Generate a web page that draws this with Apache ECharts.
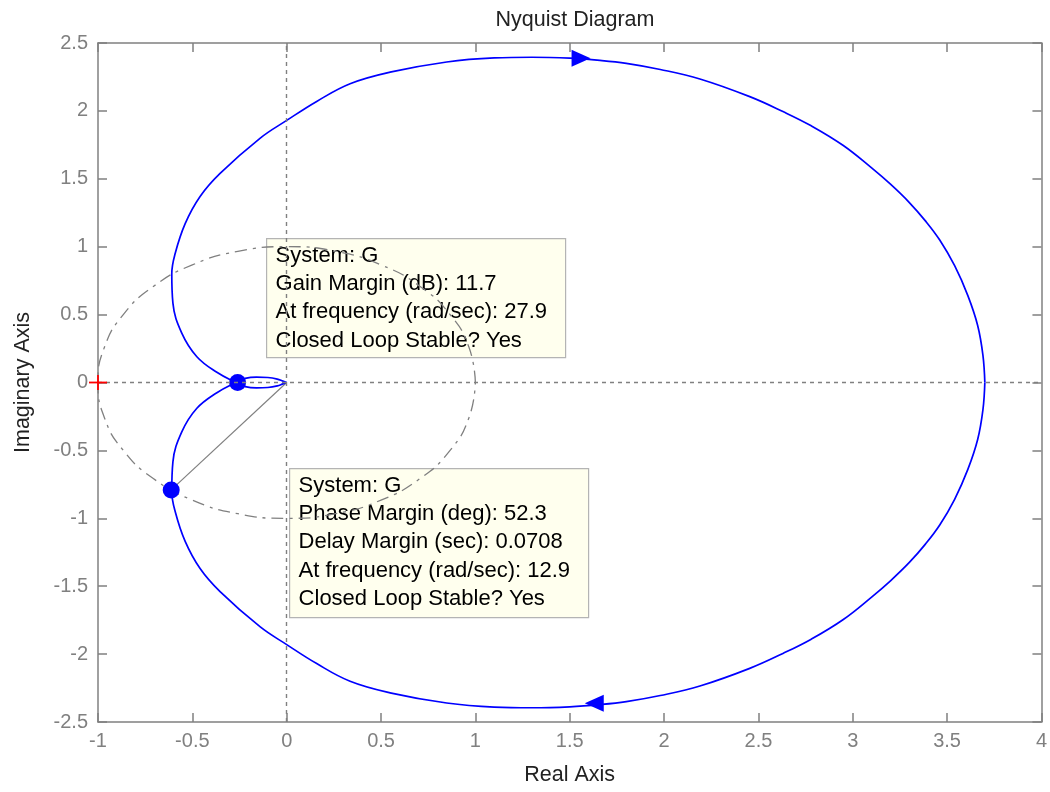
<!DOCTYPE html>
<html>
<head>
<meta charset="utf-8">
<script src="https://cdn.jsdelivr.net/npm/echarts@6/dist/echarts.min.js"></script>
<style>html,body{margin:0;padding:0;background:#fff;}#c{width:1050px;height:792px;}</style>
</head>
<body>
<div id="c"></div>
<script>
// ---- data ----
var xTicks = [-1, -0.5, 0, 0.5, 1, 1.5, 2, 2.5, 3, 3.5, 4];
var yTicks = [-2.5, -2, -1.5, -1, -0.5, 0, 0.5, 1, 1.5, 2, 2.5];

// Upper branch of the Nyquist curve (from 3.7 on the real axis, round the top, to the origin)
var nyquistUpper = [
  [3.70, 0], [3.690, 0.20], [3.662, 0.42], [3.610, 0.64], [3.540, 0.86],
  [3.461, 1.049], [3.385, 1.19], [3.300, 1.325], [3.200, 1.46], [3.100, 1.58],
  [2.950, 1.745], [2.780, 1.89], [2.630, 1.995], [2.454, 2.105], [2.190, 2.235],
  [1.980, 2.305], [1.800, 2.35], [1.660, 2.372], [1.500, 2.388], [1.300, 2.395],
  [1.100, 2.39], [0.848, 2.36], [0.548, 2.285], [0.336, 2.20], [0.159, 2.07],
  [0, 1.93], [-0.14, 1.80], [-0.353, 1.54], [-0.459, 1.37], [-0.538, 1.17],
  [-0.591, 0.95], [-0.609, 0.80], [-0.603, 0.585], [-0.556, 0.364], [-0.476, 0.19],
  [-0.37, 0.075], [-0.27, 0], [-0.22, -0.03], [-0.16, -0.04], [-0.1, -0.037],
  [-0.05, -0.025], [-0.02, -0.01], [0, 0]
];
// Lower branch: mirror image (a Nyquist plot is symmetric about the real axis)
var nyquistLower = nyquistUpper.map(function (p) { return [p[0], -p[1]]; });

// Unit circle (dash-dot reference), 15 degree steps
var unitCircle = [
  [1, 0], [0.966, 0.259], [0.866, 0.5], [0.707, 0.707], [0.5, 0.866], [0.259, 0.966],
  [0, 1], [-0.259, 0.966], [-0.5, 0.866], [-0.707, 0.707], [-0.866, 0.5], [-0.966, 0.259],
  [-1, 0], [-0.966, -0.259], [-0.866, -0.5], [-0.707, -0.707], [-0.5, -0.866], [-0.259, -0.966],
  [0, -1], [0.259, -0.966], [0.5, -0.866], [0.707, -0.707], [0.866, -0.5], [0.966, -0.259], [1, 0]
];

var gainMarginPoint = [-0.26, 0];
var phaseMarginPoint = [-0.612, -0.791];
var origin = [0, 0];
var criticalPoint = [-1, 0];
var arrowTop = [1.56, 2.387];
var arrowBottom = [1.63, -2.362];

var gmText = ['System: G', 'Gain Margin (dB): 11.7', 'At frequency (rad/sec): 27.9', 'Closed Loop Stable? Yes'];
var pmText = ['System: G', 'Phase Margin (deg): 52.3', 'Delay Margin (sec): 0.0708', 'At frequency (rad/sec): 12.9', 'Closed Loop Stable? Yes'];

// ---- chart ----
var FONT = '"Liberation Sans", Arial, Helvetica, sans-serif';
var AX = '#808080';
var chart = echarts.init(document.getElementById('c'), null, {renderer: 'canvas'});

function xAxisCfg(pos, showLabel) {
  return {
    type: 'value', position: pos, min: -1, max: 4, interval: 0.5,
    axisLine: {show: true, onZero: false, lineStyle: {color: AX, width: 1.5}},
    axisTick: {show: true, inside: true, length: 9, lineStyle: {color: AX, width: 1.5}},
    axisLabel: {show: showLabel, color: AX, fontFamily: FONT, fontSize: 20, margin: 9,
      formatter: function (v) { return String(v); }},
    splitLine: {show: false},
    name: showLabel ? 'Real Axis' : '', nameLocation: 'middle', nameGap: 42,
    nameTextStyle: {color: '#222', fontFamily: FONT, fontSize: 21.5}
  };
}
function yAxisCfg(pos, showLabel) {
  return {
    type: 'value', position: pos, min: -2.5, max: 2.5, interval: 0.5,
    axisLine: {show: true, onZero: false, lineStyle: {color: AX, width: 1.5}},
    axisTick: {show: true, inside: true, length: 9, lineStyle: {color: AX, width: 1.5}},
    axisLabel: {show: showLabel, color: AX, fontFamily: FONT, fontSize: 20, margin: 10,
      formatter: function (v) { return String(v); }},
    splitLine: {show: false},
    name: showLabel ? 'Imaginary Axis' : '', nameLocation: 'middle', nameGap: 64, nameRotate: 90,
    nameTextStyle: {color: '#222', fontFamily: FONT, fontSize: 21.5}
  };
}

var option = {
  animation: false,
  backgroundColor: '#ffffff',
  title: {
    text: 'Nyquist Diagram', left: 570, top: 4, textAlign: 'center',
    textStyle: {color: '#222', fontFamily: FONT, fontSize: 21.5, fontWeight: 'normal'}
  },
  grid: {left: 98, top: 43, right: 8, bottom: 70, containLabel: false},
  xAxis: [xAxisCfg('bottom', true), xAxisCfg('top', false)],
  yAxis: [yAxisCfg('left', true), yAxisCfg('right', false)],
  series: [
    {
      type: 'line', name: 'unit circle', data: unitCircle, smooth: true, symbol: 'none',
      lineStyle: {color: '#808080', width: 1.3, type: [12, 6, 3, 6]}, z: 1, silent: true,
      markLine: {
        silent: true, symbol: 'none', label: {show: false},
        lineStyle: {color: '#808080', width: 1.4, type: [4, 4]},
        data: [{xAxis: 0}, {yAxis: 0}]
      }
    },
    {
      type: 'line', name: 'pm line', data: [origin, phaseMarginPoint], symbol: 'none',
      lineStyle: {color: '#808080', width: 1.2}, z: 2, silent: true
    },
    {
      type: 'line', name: 'G+', data: nyquistUpper, smooth: 0.4, symbol: 'none',
      lineStyle: {color: '#0000ff', width: 1.7}, z: 3, silent: true
    },
    {
      type: 'line', name: 'G-', data: nyquistLower, smooth: 0.4, symbol: 'none',
      lineStyle: {color: '#0000ff', width: 1.7}, z: 3, silent: true
    },
    {
      type: 'scatter', name: 'margins', data: [gainMarginPoint, phaseMarginPoint],
      symbol: 'circle', symbolSize: 17, itemStyle: {color: '#0000ff', opacity: 1}, z: 4, silent: true
    },
    {
      type: 'scatter', name: 'arrows',
      data: [
        {value: arrowTop, symbolRotate: -90},
        {value: arrowBottom, symbolRotate: 90}
      ],
      symbol: 'triangle', symbolSize: [17, 19], itemStyle: {color: '#0000ff', opacity: 1}, z: 4, silent: true
    }
  ]
};
chart.setOption(option);

// Red "+" at the critical point (-1, 0), positioned through the axis scales
var cp = chart.convertToPixel({xAxisIndex: 0, yAxisIndex: 0}, criticalPoint);
chart.setOption({
  graphic: [
    {
      type: 'group', id: 'gmBox', left: 266, top: 238, z: 100,
      children: [
        {type: 'rect', shape: {x: 0, y: 0, width: 299, height: 119},
         style: {fill: '#ffffee', stroke: '#b4b4b4', lineWidth: 1.2}},
        {type: 'text', x: 9, y: 3,
         style: {text: gmText.join('\n'), fill: '#000', font: '22px ' + FONT, lineHeight: 28.3}}
      ]
    },
    {
      type: 'group', id: 'pmBox', left: 289, top: 468, z: 100,
      children: [
        {type: 'rect', shape: {x: 0, y: 0, width: 299, height: 149},
         style: {fill: '#ffffee', stroke: '#b4b4b4', lineWidth: 1.2}},
        {type: 'text', x: 9, y: 3,
         style: {text: pmText.join('\n'), fill: '#000', font: '22px ' + FONT, lineHeight: 28.3}}
      ]
    },
    {type: 'line', id: 'critH', z: 200,
     shape: {x1: cp[0] - 9, y1: cp[1], x2: cp[0] + 9, y2: cp[1]},
     style: {stroke: '#ff0000', lineWidth: 1.8}},
    {type: 'line', id: 'critV', z: 200,
     shape: {x1: cp[0], y1: cp[1] - 7.5, x2: cp[0], y2: cp[1] + 7.5},
     style: {stroke: '#ff0000', lineWidth: 1.8}}
  ]
});
</script>
</body>
</html>
